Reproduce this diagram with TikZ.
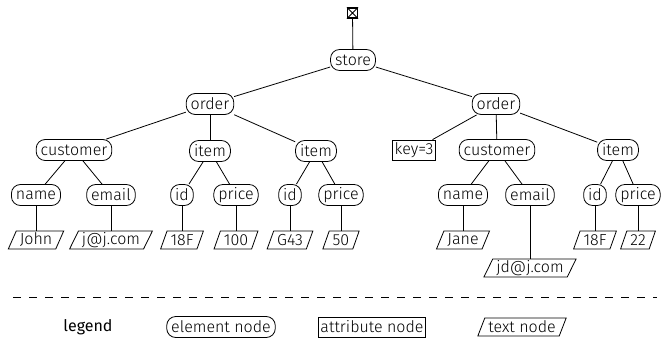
\documentclass[tikz,border=0pt]{standalone}
\usepackage{fontspec}
\setmainfont{Fira Sans}[UprightFont={* Light}]
\newfontfamily\legendfont{Fira Sans}
\usetikzlibrary{shapes.geometric}
\begin{document}
\begin{tikzpicture}[x=1pt,y=-1pt,
  every node/.style={font=\fontsize{16}{18}\selectfont},
  elem/.style={draw,rectangle,rounded corners=9pt,line width=0.8pt,inner xsep=4.5pt,inner ysep=1pt,minimum height=21pt},
  attr/.style={draw,rectangle,line width=0.8pt,inner xsep=2pt,inner ysep=1pt,minimum height=20pt},
  txt/.style={draw,trapezium,trapezium left angle=60,trapezium right angle=120,line width=0.8pt,inner xsep=3.5pt,inner ysep=0pt,minimum height=18pt,trapezium stretches body},
  edge/.style={line width=0.8pt},
  rootbox/.style={draw,rectangle,line width=1.2pt,minimum size=10pt,inner sep=0pt}
]
\useasboundingbox (0,0) rectangle (664,338);
% root
\node[rootbox] (root) at (352.5,13) {};
\draw[line width=1pt] (root.north west) -- (root.south east) (root.north east) -- (root.south west);
\node[elem] (store) at (353,60) {store};
\node[elem] (o1) at (210,104) {order};
\node[elem] (o2) at (496,104) {order};
\node[elem] (c1) at (74,150) {customer};
\node[elem] (i1) at (210,151) {item};
\node[elem] (i2) at (316,151) {item};
\node[attr] (k) at (414,150) {key=3};
\node[elem] (c2) at (497,150) {customer};
\node[elem] (i3) at (618,150) {item};
\node[elem] (n1) at (36,195) {name};
\node[elem] (e1) at (111,195) {email};
\node[elem] (id1) at (182,195) {id};
\node[elem] (p1) at (236,195) {price};
\node[elem] (id2) at (290,195) {id};
\node[elem] (p2) at (341,195) {price};
\node[elem] (n2) at (463,195) {name};
\node[elem] (e2) at (530,195) {email};
\node[elem] (id3) at (595,195) {id};
\node[elem] (p3) at (638,195) {price};
\node[txt] (t1) at (36,240) {John};
\node[txt] (t2) at (111,240) {j@j.com};
\node[txt] (t3) at (182,240) {18F};
\node[txt] (t4) at (236,240) {100};
\node[txt] (t5) at (290,240) {G43};
\node[txt] (t6) at (341,240) {50};
\node[txt] (t7) at (463,240) {Jane};
\node[txt] (t8) at (530,268) {jd@j.com};
\node[txt] (t9) at (595,240) {18F};
\node[txt] (t10) at (638,240) {22};
\draw[edge] (root) -- (store);
\draw[edge] (store) -- (o1);
\draw[edge] (store) -- (o2);
\draw[edge] (o1) -- (c1);
\draw[edge] (o1) -- (i1);
\draw[edge] (o1) -- (i2);
\draw[edge] (o2) -- (k);
\draw[edge] (o2) -- (c2);
\draw[edge] (o2) -- (i3);
\draw[edge] (c1) -- (n1);
\draw[edge] (c1) -- (e1);
\draw[edge] (i1) -- (id1);
\draw[edge] (i1) -- (p1);
\draw[edge] (i2) -- (id2);
\draw[edge] (i2) -- (p2);
\draw[edge] (c2) -- (n2);
\draw[edge] (c2) -- (e2);
\draw[edge] (i3) -- (id3);
\draw[edge] (i3) -- (p3);
\draw[edge] (n1) -- (t1);
\draw[edge] (e1) -- (t2);
\draw[edge] (id1) -- (t3);
\draw[edge] (p1) -- (t4);
\draw[edge] (id2) -- (t5);
\draw[edge] (p2) -- (t6);
\draw[edge] (n2) -- (t7);
\draw[edge] (e2) -- (t8);
\draw[edge] (id3) -- (t9);
\draw[edge] (p3) -- (t10);
% legend
\coordinate (dl) at (13,297);
\coordinate (dr) at (657,297);
\draw[edge,dash pattern=on 8pt off 8pt] (dl) -- (dr);
\node[font=\legendfont\fontsize{16}{18}\selectfont] (lg) at (88,327) {legend};
\node[elem] (le) at (221,327) {element node};
\node[attr] (la) at (372,327) {attribute node};
\node[txt] (lt) at (522,327) {text node};
\end{tikzpicture}
\end{document}
